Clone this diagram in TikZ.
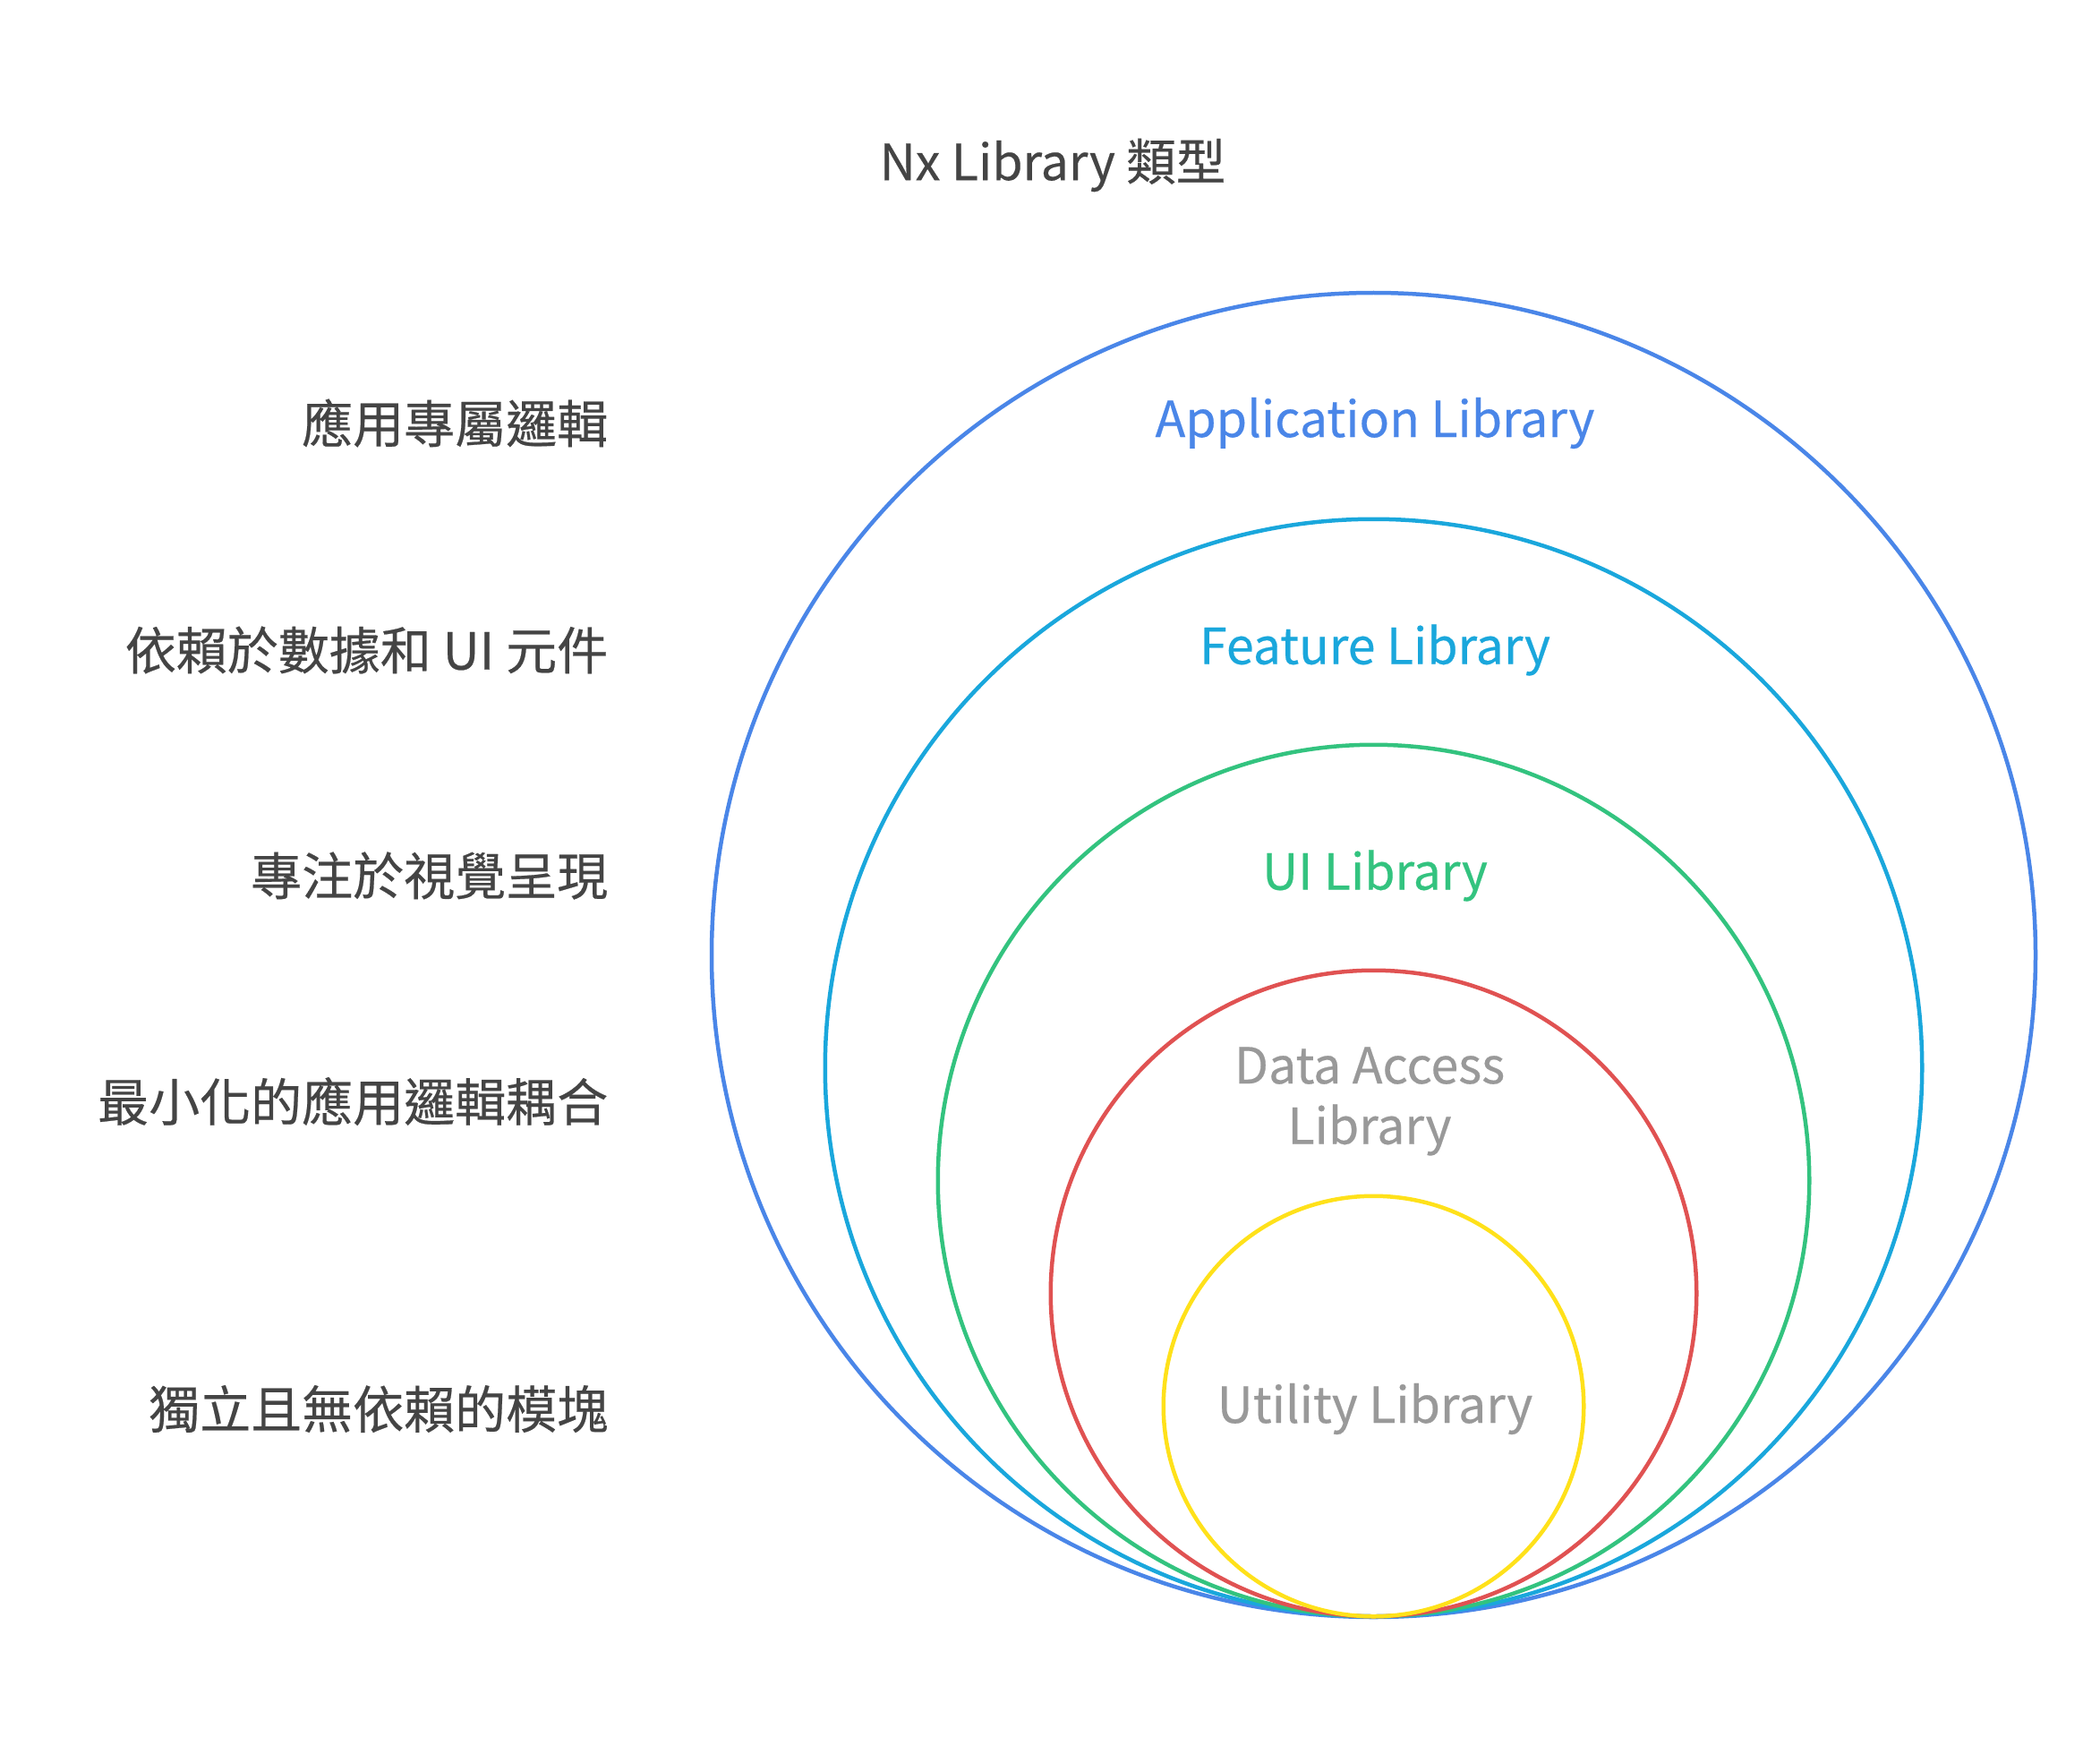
\documentclass[tikz,border=0pt]{standalone}
\usepackage{fontspec}
\setmainfont{Noto Sans CJK TC}[FakeBold=0.4]
\usetikzlibrary{positioning}
\definecolor{appblue}{HTML}{4A86E8}
\definecolor{featcyan}{HTML}{1AA7DC}
\definecolor{uigreen}{HTML}{33C37F}
\definecolor{datared}{HTML}{E05252}
\definecolor{utilyellow}{HTML}{FFE11A}
\definecolor{labelgray}{HTML}{999999}
\definecolor{textdark}{HTML}{444444}

\begin{document}
\begin{tikzpicture}[x=1pt,y=-1pt,
    ring/.style={draw=#1,line width=3pt},
    inlabel/.style={text=#1,font=\fontsize{37}{45}\selectfont,align=center,inner sep=0},
    sidelabel/.style={text=textdark,font=\fontsize{38}{46}\selectfont,anchor=east,inner sep=0}
    ]
    \useasboundingbox (0,0) rectangle (1564,1300);
    \node[text=textdark,font=\fontsize{37}{45}\selectfont,inner sep=0] (title) at (784,123) {Nx Library 類型};
    %%% Kringen
    \draw[ring=appblue] (1023,711) circle (493);
    \draw[ring=featcyan] (1023,795) circle (408.5);
    \draw[ring=uigreen] (1023,879) circle (324.5);
    \draw[ring=datared] (1023,963) circle (240.5);
    \draw[ring=utilyellow] (1023,1047) circle (156.5);
    %%% Namen
    \node[inlabel=appblue] (app) at (1024,315) {Application Library};
    \node[inlabel=featcyan] (feat) at (1024,484) {Feature Library};
    \node[inlabel=uigreen] (ui) at (1024,652) {UI Library};
    \node[inlabel=labelgray] (data) at (1020,820) {Data Access\\Library};
    \node[inlabel=labelgray] (util) at (1024,1049) {Utility Library};
    %%% Beschrijvingen
    \node[sidelabel] (app_desc) at (453,315) {應用專屬邏輯};
    \node[sidelabel] (feat_desc) at (453,484) {依賴於數據和 UI 元件};
    \node[sidelabel] (ui_desc) at (453,652) {專注於視覺呈現};
    \node[sidelabel] (data_desc) at (453,820) {最小化的應用邏輯耦合};
    \node[sidelabel] (util_desc) at (453,1049) {獨立且無依賴的模塊};
\end{tikzpicture}
\end{document}
